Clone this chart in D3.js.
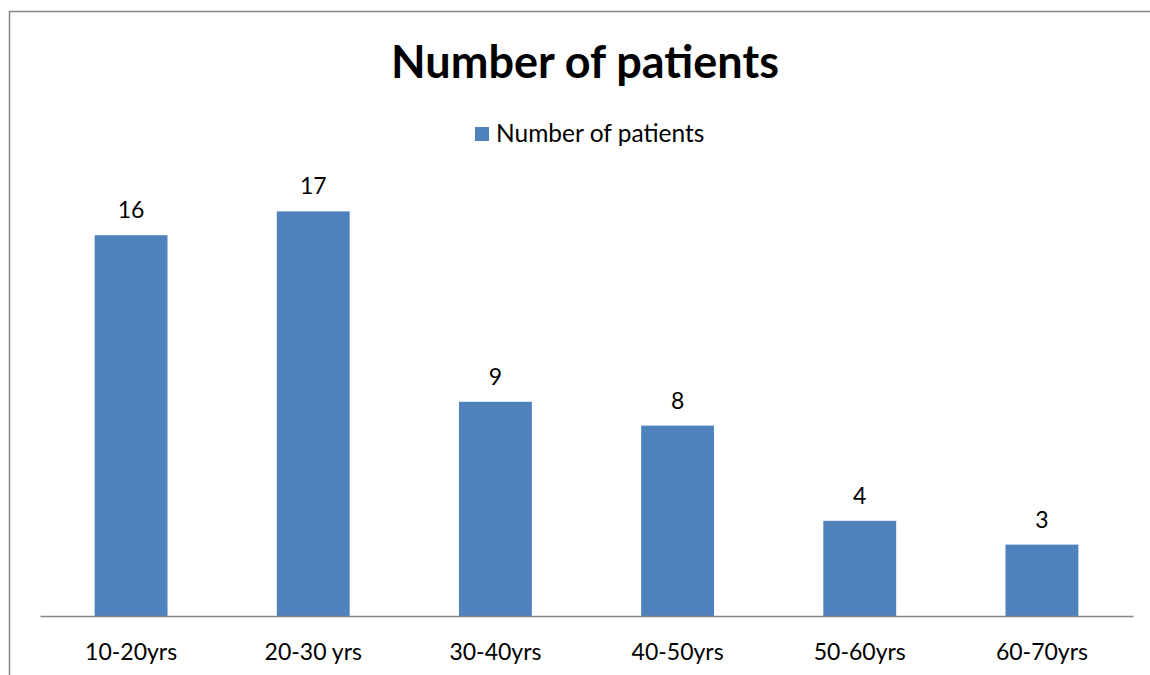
<!DOCTYPE html>
<html>
<head>
<meta charset="utf-8">
<script src="https://cdn.jsdelivr.net/npm/d3@7"></script>
<style>
  body { margin: 0; background: #fff; }
  svg { font-family: Lato, "Open Sans", sans-serif; }
</style>
</head>
<body>
<div id="chart"></div>
<script>
// data
const categories = ["10-20yrs", "20-30 yrs", "30-40yrs", "40-50yrs", "50-60yrs", "60-70yrs"];
const patients = [16, 17, 9, 8, 4, 3];
const seriesName = "Number of patients";

const width = 1150, height = 675;
const left = 40, right = 1133, baseY = 616;

const svg = d3.select("#chart").append("svg")
    .attr("width", width)
    .attr("height", height);

// outer frame (runs off the right and bottom edge)
svg.append("rect")
    .attr("x", 9.5).attr("y", 11.5)
    .attr("width", 1160).attr("height", 700)
    .attr("fill", "#fff")
    .attr("stroke", "#868686")
    .attr("stroke-width", 1.5);

const x = d3.scaleBand()
    .domain(categories)
    .range([left, right])
    .paddingInner(0.6)
    .paddingOuter(0.3);

const y = d3.scaleLinear()
    .domain([0, 18])
    .range([baseY, baseY - 18 * 23.8]);

// title
svg.append("text")
    .attr("x", 585).attr("y", 78)
    .attr("text-anchor", "middle")
    .style("font-size", "45px")
    .style("font-weight", "bold")
    .text(seriesName);

// legend
svg.append("rect")
    .attr("x", 475).attr("y", 127)
    .attr("width", 14).attr("height", 14)
    .attr("fill", "#4f81bd");
svg.append("text")
    .attr("x", 496).attr("y", 142)
    .style("font-size", "24.5px")
    .text(seriesName);

// bars
svg.append("g")
    .selectAll("rect")
    .data(patients)
    .enter().append("rect")
    .attr("x", (d, i) => x(categories[i]))
    .attr("y", d => y(d))
    .attr("width", x.bandwidth())
    .attr("height", d => y(0) - y(d))
    .attr("fill", "#4f81bd");

// value labels
svg.append("g")
    .selectAll("text")
    .data(patients)
    .enter().append("text")
    .attr("x", (d, i) => x(categories[i]) + x.bandwidth() / 2)
    .attr("y", d => y(d) - 17)
    .attr("text-anchor", "middle")
    .style("font-size", "23px")
    .text(d => d);

// x axis
const xAxis = d3.axisBottom(x).tickSize(0).tickPadding(28);
const gx = svg.append("g")
    .attr("transform", `translate(0,${baseY})`)
    .call(xAxis);
gx.select(".domain").attr("stroke", "#868686").attr("stroke-width", 1.5);
gx.selectAll("text")
    .style("font-size", "23px")
    .style("font-family", "Lato, 'Open Sans', sans-serif")
    .attr("fill", "#000");
</script>
</body>
</html>
